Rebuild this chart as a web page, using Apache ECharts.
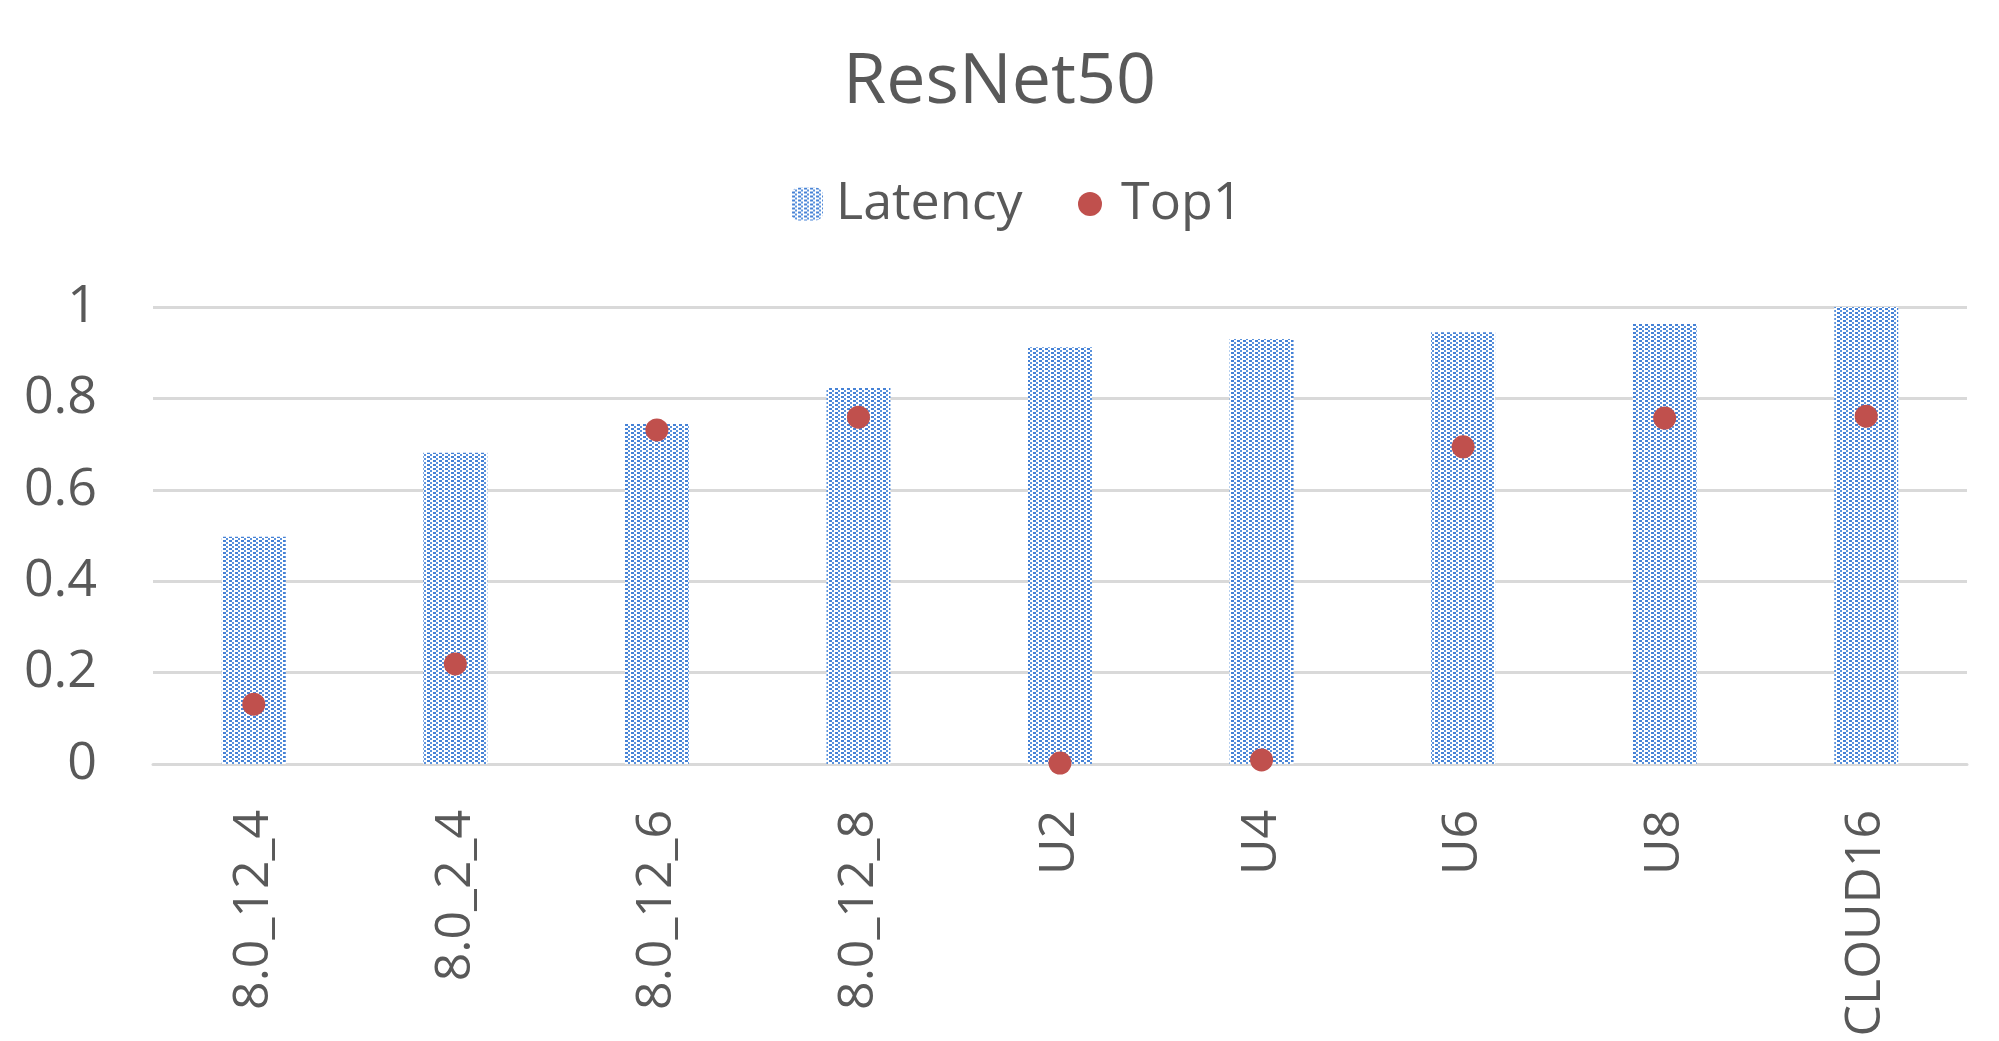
<!DOCTYPE html>
<html>
<head>
<meta charset="utf-8">
<script src="https://cdn.jsdelivr.net/npm/echarts@6/dist/echarts.min.js"></script>
<style>
html,body{margin:0;padding:0;background:#fff;}
#chart{width:1999px;height:1041px;}
</style>
</head>
<body>
<div id="chart"></div>
<script>
const categories = ['8.0_12_4', '8.0_2_4', '8.0_12_6', '8.0_12_8', 'U2', 'U4', 'U6', 'U8', 'CLOUD16'];
const latency = [0.497, 0.681, 0.744, 0.823, 0.912, 0.930, 0.945, 0.963, 1.0];
const top1 = [0.131, 0.219, 0.731, 0.759, 0.002, 0.009, 0.694, 0.757, 0.761];
const yTicks = [0, 0.2, 0.4, 0.6, 0.8, 1];

// dotted fill pattern for the Latency bars
const tile = document.createElement('canvas');
tile.width = 6; tile.height = 4;
const tctx = tile.getContext('2d');
tctx.fillStyle = '#ffffff';
tctx.fillRect(0, 0, 6, 4);
tctx.fillStyle = '#4682d6';
tctx.fillRect(1, 0, 3, 2);
tctx.fillStyle = '#5a92dc';
tctx.fillRect(4, 2, 2, 2);

const FONT = '"Open Sans", "Liberation Sans", sans-serif';
const TXT = '#595959';

const chart = echarts.init(document.getElementById('chart'));
chart.setOption({
  animation: false,
  backgroundColor: '#ffffff',
  title: {
    text: 'ResNet50',
    left: 'center',
    top: 43,
    textStyle: {fontFamily: FONT, fontSize: 70, fontWeight: 'normal', color: TXT}
  },
  legend: [
    {
      data: ['Latency'],
      left: 786, top: 173,
      itemWidth: 32, itemHeight: 33,
      itemGap: 20,
      textStyle: {fontFamily: FONT, fontSize: 52, color: TXT, padding: [0, 0, 0, 8]}
    },
    {
      data: ['Top1'],
      left: 1073, top: 173,
      itemWidth: 24, itemHeight: 24,
      icon: 'circle',
      textStyle: {fontFamily: FONT, fontSize: 52, color: TXT, padding: [0, 0, 0, 14]}
    }
  ],
  grid: {left: 153, right: 32, top: 307, bottom: 277, containLabel: false, outerBoundsMode: 'none'},
  xAxis: {
    type: 'category',
    data: categories,
    axisLine: {show: true, lineStyle: {color: '#d9d9d9', width: 3}},
    axisTick: {show: false},
    axisLabel: {rotate: 90, margin: 46, fontFamily: FONT, fontSize: 50, color: TXT, interval: 0}
  },
  yAxis: {
    type: 'value',
    min: 0, max: 1, interval: 0.2,
    axisLine: {show: false},
    axisTick: {show: false},
    splitLine: {lineStyle: {color: '#d9d9d9', width: 3}},
    axisLabel: {
      margin: 56, fontFamily: FONT, fontSize: 52, color: TXT,
      formatter: v => { const t = yTicks.find(x => Math.abs(x - v) < 1e-9); return t === undefined ? '' : String(t); }
    }
  },
  series: [
    {
      name: 'Latency',
      type: 'bar',
      data: latency,
      barWidth: 64,
      itemStyle: {color: {image: tile, repeat: 'repeat'}}
    },
    {
      name: 'Top1',
      type: 'scatter',
      data: top1,
      symbol: 'circle',
      symbolSize: 23,
      itemStyle: {color: '#c0504d', opacity: 1},
      z: 5
    }
  ]
});
</script>
</body>
</html>
